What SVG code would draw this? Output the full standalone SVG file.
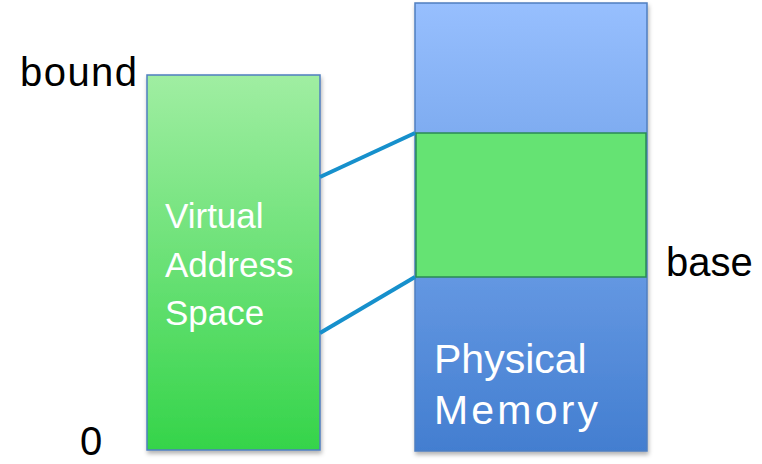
<svg xmlns="http://www.w3.org/2000/svg" width="762" height="464" viewBox="0 0 762 464">
<style>
.lbl{font-family:"Liberation Sans",Arial,sans-serif;font-size:40px;fill:#000}
.vt{font-family:"Liberation Sans",Arial,sans-serif;font-size:35px;fill:#fff}
.pt{font-family:"Liberation Sans",Arial,sans-serif;font-size:41px;fill:#fff}
.conn{stroke:#1690cc;stroke-width:4;fill:none}
</style>
<defs>
<linearGradient id="gv" x1="0" y1="0" x2="0" y2="1">
<stop offset="0" stop-color="#a0eea2"/>
<stop offset="1" stop-color="#35d44a"/>
</linearGradient>
<linearGradient id="gp" x1="0" y1="0" x2="0" y2="1">
<stop offset="0" stop-color="#97bffe"/>
<stop offset="1" stop-color="#437ed0"/>
</linearGradient>
<filter id="sh" x="-10%" y="-10%" width="130%" height="130%">
<feDropShadow dx="1" dy="3" stdDeviation="2" flood-color="#000" flood-opacity="0.3"/>
</filter>
</defs>
<g id="virtual">
<rect x="147" y="75" width="173" height="375" fill="url(#gv)" stroke="#4f7fc0" stroke-width="1.5" filter="url(#sh)"/>
<text class="vt" x="165" y="228">Virtual</text>
<text class="vt" x="165" y="277">Address</text>
<text class="vt" x="165" y="325">Space</text>
</g>
<g id="physical">
<rect x="415" y="3" width="232" height="448" fill="url(#gp)" stroke="#4f7fc0" stroke-width="1.5" filter="url(#sh)"/>
<text class="pt" x="434" y="373">Physical</text>
<text class="pt" x="434" y="424" textLength="164">Memory</text>
</g>
<g id="segment">
<rect x="416" y="133" width="230" height="144" fill="#65e373" stroke="#2a8a55" stroke-width="1.5"/>
</g>
<g id="labels">
<text class="lbl" x="20" y="86" textLength="117">bound</text>
<text class="lbl" x="80" y="455">0</text>
<text class="lbl" x="666" y="276">base</text>
</g>
<g id="connectors">
<line class="conn" x1="320" y1="177" x2="415" y2="133"/>
<line class="conn" x1="320" y1="333" x2="415" y2="277"/>
</g>
</svg>
